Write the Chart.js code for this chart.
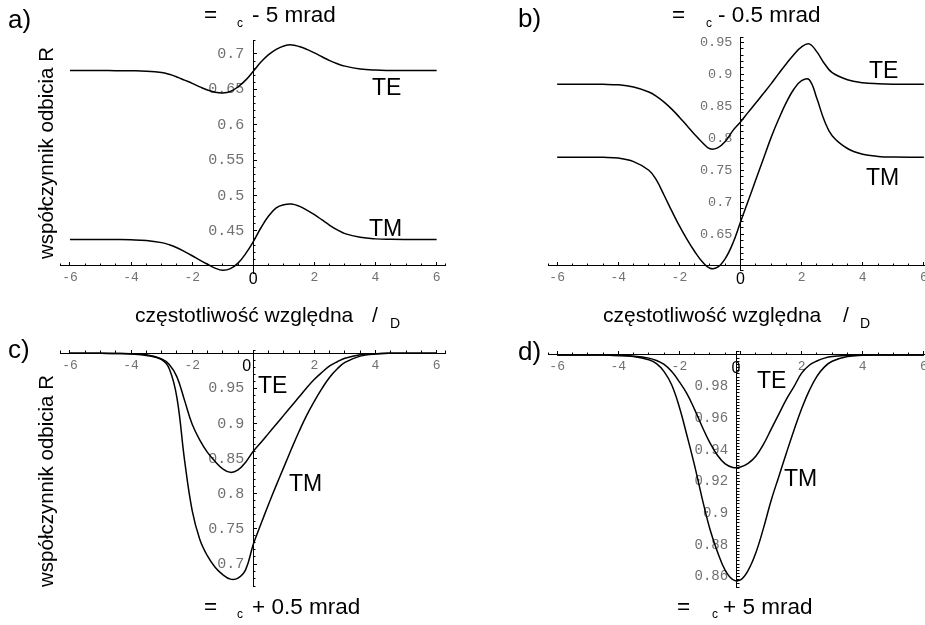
<!DOCTYPE html>
<html>
<head>
<meta charset="utf-8">
<script src="https://cdn.jsdelivr.net/npm/chart.js@4.4.1/dist/chart.umd.min.js"></script>
<style>
  html, body { margin: 0; padding: 0; background: #fff; }
  body { width: 925px; height: 625px; position: relative; overflow: hidden; font-family: Arial, "Liberation Sans", sans-serif; color: #000; }
  canvas { position: absolute; }
  .t { position: absolute; white-space: pre; line-height: 1; }
  .ytitle { position: absolute; white-space: pre; line-height: 1; font-size: 20.5px; transform: translate(-50%, -50%) rotate(-90deg); }
</style>
</head>
<body>
<canvas id="chartA" width="470" height="300" style="left:0px;top:0px"></canvas>
<canvas id="chartB" width="480" height="300" style="left:465px;top:0px"></canvas>
<canvas id="chartC" width="470" height="300" style="left:0px;top:300px"></canvas>
<canvas id="chartD" width="480" height="300" style="left:465px;top:300px"></canvas>

<!-- panel letters -->
<div class="t" style="left:8px;top:6px;font-size:26px">a)</div>
<div class="t" style="left:518px;top:5px;font-size:26px">b)</div>
<div class="t" style="left:8px;top:336px;font-size:26px">c)</div>
<div class="t" style="left:518px;top:338px;font-size:26px">d)</div>

<!-- titles (greek letters missing as in the source picture) -->
<div class="t" style="left:204px;top:4px;font-size:22.5px">=</div>
<div class="t" style="left:237px;top:16.8px;font-size:12px">c</div>
<div class="t" style="left:252px;top:4px;font-size:22.5px">- 5 mrad</div>

<div class="t" style="left:672px;top:4px;font-size:22.5px">=</div>
<div class="t" style="left:706px;top:16.8px;font-size:12px">c</div>
<div class="t" style="left:718px;top:4px;font-size:22.5px">- 0.5 mrad</div>

<div class="t" style="left:204px;top:596px;font-size:22.5px">=</div>
<div class="t" style="left:237px;top:607.8px;font-size:12px">c</div>
<div class="t" style="left:252px;top:596px;font-size:22.5px">+ 0.5 mrad</div>

<div class="t" style="left:677px;top:596px;font-size:22.5px">=</div>
<div class="t" style="left:712px;top:607.8px;font-size:12px">c</div>
<div class="t" style="left:723px;top:596px;font-size:22.5px">+ 5 mrad</div>

<!-- x axis titles -->
<div class="t" style="left:135px;top:304px;font-size:21px">częstotliwość względna</div>
<div class="t" style="left:372px;top:304px;font-size:21px">/</div>
<div class="t" style="left:390px;top:316.2px;font-size:14px">D</div>
<div class="t" style="left:603px;top:304px;font-size:21px">częstotliwość względna</div>
<div class="t" style="left:843px;top:304px;font-size:21px">/</div>
<div class="t" style="left:860px;top:316.2px;font-size:14px">D</div>

<!-- y axis titles -->
<div class="ytitle" style="left:46.2px;top:152.5px">współczynnik odbicia R</div>
<div class="ytitle" style="left:46.2px;top:481px">współczynnik odbicia R</div>

<!-- curve labels -->
<div class="t" style="left:372px;top:75.5px;font-size:23px">TE</div>
<div class="t" style="left:369px;top:217.2px;font-size:23px">TM</div>
<div class="t" style="left:869px;top:58.8px;font-size:23px">TE</div>
<div class="t" style="left:866px;top:165.5px;font-size:23px">TM</div>
<div class="t" style="left:258px;top:373.5px;font-size:23px">TE</div>
<div class="t" style="left:289px;top:472.2px;font-size:23px">TM</div>
<div class="t" style="left:757px;top:368.8px;font-size:23px">TE</div>
<div class="t" style="left:784px;top:467.2px;font-size:23px">TM</div>

<script>
// relative frequency (x), shared by all panels
const freq = [-6, -5, -4.5, -4, -3.5, -3, -2.75, -2.5, -2.25, -2, -1.75, -1.5, -1.25, -1, -0.75, -0.5, -0.25,
  0, 0.25, 0.5, 0.75, 1, 1.25, 1.5, 1.75, 2, 2.25, 2.5, 2.75, 3, 3.5, 4, 4.5, 5, 6];

// a) theta = theta_c - 5 mrad
const teA = [0.6765, 0.6765, 0.6764, 0.6762, 0.6757, 0.6738, 0.6712, 0.6675, 0.6630, 0.6585, 0.6535, 0.6490, 0.6460, 0.6450, 0.6470, 0.6535, 0.6630,
  0.6755, 0.6885, 0.6990, 0.7065, 0.7113, 0.7128, 0.7105, 0.7065, 0.7015, 0.6960, 0.6905, 0.6862, 0.6828, 0.6788, 0.6772, 0.6767, 0.6765, 0.6765];
const tmA = [0.4379, 0.4379, 0.4378, 0.4375, 0.4365, 0.4335, 0.4305, 0.4262, 0.4208, 0.4150, 0.4088, 0.4030, 0.3975, 0.3945, 0.3968, 0.4045, 0.4180,
  0.4350, 0.4545, 0.4710, 0.4825, 0.4870, 0.4880, 0.4850, 0.4795, 0.4730, 0.4655, 0.4580, 0.4515, 0.4462, 0.4410, 0.4388, 0.4381, 0.4379, 0.4379];

// b) theta = theta_c - 0.5 mrad
const teB = [0.8845, 0.8845, 0.8843, 0.8835, 0.8800, 0.8722, 0.8655, 0.8565, 0.8455, 0.8330, 0.8195, 0.8060, 0.7935, 0.7835, 0.7850, 0.7950, 0.8120,
  0.8255, 0.8405, 0.8550, 0.8700, 0.8850, 0.9010, 0.9165, 0.9310, 0.9430, 0.9475, 0.9350, 0.9165, 0.9025, 0.8915, 0.8868, 0.8852, 0.8846, 0.8845];
const tmB = [0.7705, 0.7705, 0.7702, 0.7690, 0.7635, 0.7500, 0.7345, 0.7110, 0.6865, 0.6630, 0.6420, 0.6230, 0.6070, 0.5970, 0.5985, 0.6120, 0.6360,
  0.6690, 0.7020, 0.7350, 0.7680, 0.8010, 0.8300, 0.8560, 0.8770, 0.8900, 0.8915, 0.8620, 0.8270, 0.8040, 0.7840, 0.7750, 0.7717, 0.7707, 0.7705];

// c) theta = theta_c + 0.5 mrad
const teC = [1.0000, 1.0000, 0.9997, 0.9995, 0.9980, 0.9920, 0.9840, 0.9665, 0.9330, 0.8990, 0.8765, 0.8590, 0.8460, 0.8355, 0.8305, 0.8340, 0.8450,
  0.8605, 0.8730, 0.8860, 0.8990, 0.9120, 0.9250, 0.9380, 0.9510, 0.9630, 0.9730, 0.9820, 0.9880, 0.9930, 0.9980, 0.9995, 1.0000, 1.0000, 1.0000];
const tmC = [1.0000, 1.0000, 0.9997, 0.9990, 0.9970, 0.9910, 0.9780, 0.9370, 0.8480, 0.7760, 0.7350, 0.7115, 0.6955, 0.6850, 0.6785, 0.6800, 0.6920,
  0.7280, 0.7570, 0.7850, 0.8120, 0.8380, 0.8640, 0.8890, 0.9120, 0.9320, 0.9500, 0.9660, 0.9780, 0.9870, 0.9960, 0.9990, 1.0000, 1.0000, 1.0000];

// d) theta = theta_c + 5 mrad
const teD = [1.0000, 1.0000, 1.0000, 0.9997, 0.9992, 0.9980, 0.9965, 0.9940, 0.9895, 0.9830, 0.9755, 0.9655, 0.9545, 0.9445, 0.9365, 0.9312, 0.9290,
  0.9292, 0.9315, 0.9360, 0.9435, 0.9530, 0.9625, 0.9720, 0.9800, 0.9885, 0.9935, 0.9962, 0.9980, 0.9990, 0.9997, 1.0000, 1.0000, 1.0000, 1.0000];
const tmD = [1.0000, 1.0000, 1.0000, 0.9996, 0.9990, 0.9970, 0.9945, 0.9895, 0.9810, 0.9670, 0.9490, 0.9300, 0.9090, 0.8900, 0.8755, 0.8640, 0.8582,
  0.8580, 0.8640, 0.8750, 0.8905, 0.9080, 0.9230, 0.9380, 0.9525, 0.9660, 0.9775, 0.9865, 0.9925, 0.9960, 0.9990, 0.9998, 1.0000, 1.0000, 1.0000];

// tick labels
const xTicks = [-6, -4, -2, 0, 2, 4, 6];
const yTicksA = [0.45, 0.5, 0.55, 0.6, 0.65, 0.7];
const yTicksB = [0.65, 0.7, 0.75, 0.8, 0.85, 0.9, 0.95];
const yTicksC = [0.7, 0.75, 0.8, 0.85, 0.9, 0.95];
const yTicksD = [0.86, 0.88, 0.9, 0.92, 0.94, 0.96, 0.98];

const grey = '#707070';
const monoFamily = "'Liberation Mono', 'Courier New', monospace";
const sansFamily = "Arial, 'Liberation Sans', sans-serif";

const toPoints = ys => freq.map((x, i) => ({ x: x, y: ys[i] }));

function curve(label, ys) {
  return { label: label, data: toPoints(ys), borderColor: '#000', borderWidth: 1.5, pointRadius: 0, tension: 0.4, fill: false };
}

function panel(id, te, tm, cfg) {
  new Chart(document.getElementById(id), {
    type: 'line',
    data: { datasets: [curve('TE', te), curve('TM', tm)] },
    options: {
      responsive: false,
      animation: false,
      events: [],
      layout: { padding: cfg.padding },
      plugins: { legend: { display: false }, tooltip: { enabled: false } },
      scales: {
        x: {
          type: 'linear', axis: 'x', min: -6.3, max: 6.3,
          position: { y: cfg.xAxisAt },
          afterBuildTicks: axis => { axis.ticks = xTicks.map(v => ({ value: v })); },
          border: { display: true, color: '#000', width: 1 },
          grid: { drawOnChartArea: false, color: '#000', tickLength: -4 },
          ticks: {
            autoSkip: false, maxRotation: 0, padding: 8,
            color: c => (c.tick && c.tick.value === 0) ? '#000' : grey,
            font: c => (c.tick && c.tick.value === 0) ? { family: sansFamily, size: 16 } : { family: monoFamily, size: 13 },
            // the hand-set "0" sits a little left of its tick in c) and d)
            callback: v => v === 0 ? '0' + cfg.zeroPad : String(v)
          }
        },
        xMinor: {
          type: 'linear', axis: 'x', min: -6.3, max: 6.3,
          position: { y: cfg.xAxisAt },
          border: { display: false },
          grid: { drawOnChartArea: false, color: '#000', tickLength: -2.5 },
          ticks: { autoSkip: false, stepSize: 0.5, maxTicksLimit: 1000, callback: () => '' }
        },
        y: {
          type: 'linear', axis: 'y', min: cfg.yMin, max: cfg.yMax,
          position: { x: cfg.yAxisAt },
          afterBuildTicks: axis => { axis.ticks = cfg.yTicks.map(v => ({ value: v })); },
          border: { display: true, color: '#000', width: 1 },
          grid: { drawOnChartArea: false, color: '#000', tickLength: -4 },
          ticks: { autoSkip: false, padding: 0, color: grey, font: { family: monoFamily, size: cfg.yFont }, callback: v => v + ' ' }
        },
        yMinor: {
          type: 'linear', axis: 'y', min: cfg.yMin, max: cfg.yMax,
          position: { x: cfg.yAxisAt },
          border: { display: false },
          grid: { drawOnChartArea: false, color: '#000', tickLength: -2.5 },
          ticks: { autoSkip: false, stepSize: cfg.yMinorStep, maxTicksLimit: 1000, callback: () => '' }
        }
      }
    }
  });
}

panel('chartA', teA, tmA, {
  padding: { left: 60.8, right: 24.2, top: 40, bottom: 27 },
  yMin: 0.3906, yMax: 0.7197, xAxisAt: 0.401, yAxisAt: 0,
  yTicks: yTicksA, yMinorStep: 0.01, yFont: 15, zeroPad: ''
});
panel('chartB', teB, tmB, {
  padding: { left: 83, right: 12, top: 37.8, bottom: 29.9 },
  yMin: 0.594, yMax: 0.957, xAxisAt: 0.6005, yAxisAt: 0,
  yTicks: yTicksB, yMinorStep: 0.01, yFont: 13.5, zeroPad: ''
});
panel('chartC', teC, tmC, {
  padding: { left: 60.8, right: 24.2, top: 50.5, bottom: 13.3 },
  yMin: 0.6677, yMax: 1.004, xAxisAt: 1.0, yAxisAt: 0,
  yTicks: yTicksC, yMinorStep: 0.01, yFont: 15, zeroPad: '   '
});
panel('chartD', teD, tmD, {
  padding: { left: 83, right: 12, top: 51.8, bottom: 12.7 },
  yMin: 0.8533, yMax: 1.002, xAxisAt: 1.0, yAxisAt: -0.13,
  yTicks: yTicksD, yMinorStep: 0.002, yFont: 14, zeroPad: '  '
});
</script>
</body>
</html>
